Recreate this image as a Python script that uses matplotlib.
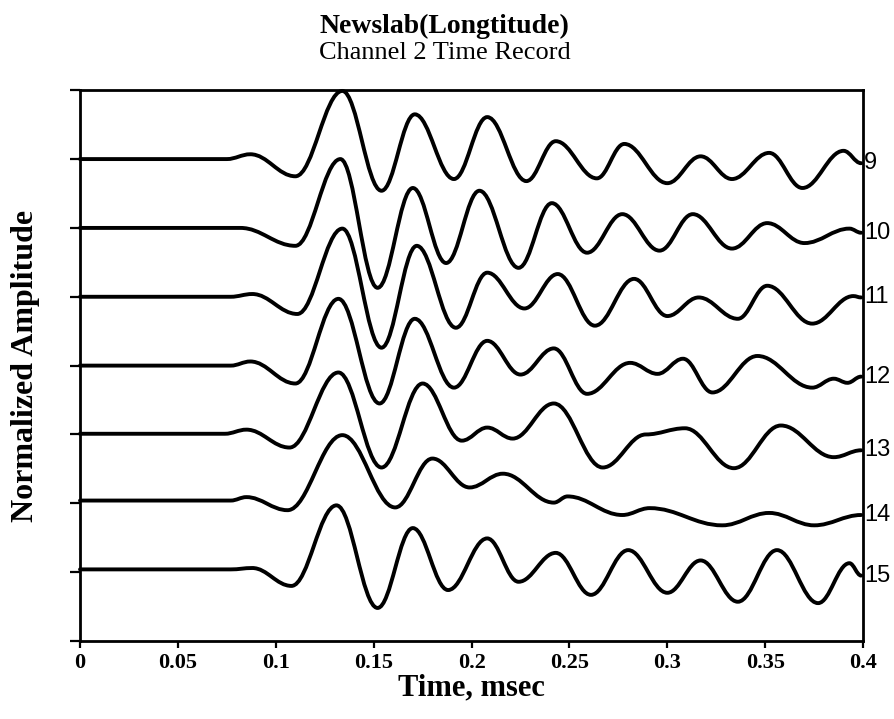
import matplotlib
matplotlib.use("Agg")
import matplotlib.pyplot as plt
from matplotlib.path import Path
from matplotlib.patches import PathPatch

# traces: time (msec) of each turning point and the
# normalized amplitude there (1.0 = one trace spacing)
trace_names = ["9", "10", "11", "12", "13", "14", "15"]
trace_offsets = [7, 6, 5, 4, 3, 2, 1]

t9 = [0, 0.075, 0.087, 0.110, 0.134, 0.154, 0.171, 0.191, 0.208, 0.228, 0.243,
      0.264, 0.278, 0.300, 0.317, 0.333, 0.352, 0.369, 0.390, 0.399]
a9 = [0, 0, 0.07, -0.25, 0.99, -0.46, 0.65, -0.29, 0.61, -0.32, 0.26,
      -0.28, 0.22, -0.35, 0.04, -0.29, 0.09, -0.42, 0.12, -0.06]

t10 = [0, 0.082, 0.110, 0.133, 0.152, 0.170, 0.187, 0.204, 0.224, 0.241,
       0.259, 0.277, 0.296, 0.313, 0.333, 0.351, 0.370, 0.393, 0.399]
a10 = [0, 0, -0.26, 1.00, -0.87, 0.58, -0.51, 0.54, -0.58, 0.36,
       -0.36, 0.20, -0.33, 0.20, -0.30, 0.07, -0.22, -0.01, -0.07]

t11 = [0, 0.077, 0.088, 0.111, 0.134, 0.154, 0.172, 0.192, 0.208, 0.227, 0.244,
       0.263, 0.283, 0.300, 0.316, 0.336, 0.351, 0.374, 0.395, 0.399]
a11 = [0, 0, 0.04, -0.25, 0.99, -0.74, 0.74, -0.45, 0.35, -0.17, 0.33,
       -0.42, 0.26, -0.28, -0.01, -0.32, 0.16, -0.39, 0.01, -0.01]

t12 = [0, 0.077, 0.087, 0.110, 0.132, 0.153, 0.171, 0.191, 0.208, 0.225, 0.242,
       0.259, 0.281, 0.295, 0.308, 0.323, 0.346, 0.374, 0.385, 0.392, 0.399]
a12 = [0, 0, 0.06, -0.26, 0.97, -0.55, 0.68, -0.32, 0.36, -0.13, 0.25,
       -0.41, 0.04, -0.12, 0.10, -0.39, 0.14, -0.32, -0.19, -0.25, -0.16]

t13 = [0, 0.074, 0.085, 0.107, 0.132, 0.154, 0.175, 0.195, 0.208, 0.221, 0.242,
       0.267, 0.289, 0.309, 0.334, 0.358, 0.385, 0.399]
a13 = [0.01, 0.01, 0.07, -0.19, 0.90, -0.48, 0.74, -0.09, 0.10, -0.06, 0.45,
       -0.48, 0.0, 0.09, -0.49, 0.13, -0.33, -0.23]

t14 = [0, 0.077, 0.085, 0.106, 0.134, 0.161, 0.180, 0.199, 0.216, 0.242, 0.249,
       0.277, 0.291, 0.328, 0.352, 0.375, 0.399]
a14 = [0.04, 0.04, 0.09, -0.10, 0.99, -0.06, 0.65, 0.23, 0.43, 0.01, 0.10,
       -0.17, -0.07, -0.32, -0.14, -0.32, -0.17]

t15 = [0, 0.077, 0.088, 0.108, 0.131, 0.152, 0.170, 0.188, 0.208, 0.224, 0.243,
       0.261, 0.280, 0.300, 0.317, 0.336, 0.356, 0.377, 0.393, 0.399]
a15 = [0.04, 0.04, 0.06, -0.20, 0.97, -0.52, 0.64, -0.26, 0.49, -0.14, 0.28,
       -0.33, 0.32, -0.30, 0.17, -0.43, 0.32, -0.45, 0.13, -0.05]

times = [t9, t10, t11, t12, t13, t14, t15]
amps = [a9, a10, a11, a12, a13, a14, a15]

x_ticks = [0, 0.05, 0.1, 0.15, 0.2, 0.25, 0.3, 0.35, 0.4]
x_tick_labels = ["0", "0.05", "0.1", "0.15", "0.2", "0.25", "0.3", "0.35", "0.4"]

serif = ["Liberation Serif", "DejaVu Serif"]


def smooth_trace(t, a, base):
    # cubic bezier through the turning points, flat tangent at each one
    verts = [(t[0], base + a[0])]
    codes = [Path.MOVETO]
    for i in range(1, len(t)):
        h = (t[i] - t[i - 1]) * 0.38
        verts += [(t[i - 1] + h, base + a[i - 1]),
                  (t[i] - h, base + a[i]),
                  (t[i], base + a[i])]
        codes += [Path.CURVE4] * 3
    return Path(verts, codes)


fig = plt.figure(figsize=(8.95, 7.19), dpi=100)
ax = fig.add_axes([0.0894, 0.1085, 0.875, 0.766])

for name, base, t, a in zip(trace_names, trace_offsets, times, amps):
    ax.add_patch(PathPatch(smooth_trace(t, a, base), fill=False, lw=2.8,
                           ec="black", capstyle="round", joinstyle="round",
                           clip_on=False))
    ax.annotate(name, (t[-1], base + a[-1]), xytext=(2, 0),
                textcoords="offset points", ha="left", va="center",
                fontsize=17, family="Liberation Sans", annotation_clip=False)

ax.set_xlim(0, 0.4)
ax.set_ylim(0, 8)
ax.set_xticks(x_ticks)
ax.set_xticklabels(x_tick_labels, family=serif, fontweight="bold", fontsize=16)
ax.set_yticks(range(0, 9))
ax.set_yticklabels([])
ax.tick_params(axis="x", direction="out", length=5, width=1.6, pad=4)
ax.tick_params(axis="y", direction="out", length=7, width=1.6)
for sp in ax.spines.values():
    sp.set_linewidth(2.0)

ax.set_xlabel("Time, msec", family=serif, fontweight="bold", fontsize=22, labelpad=0)
ax.set_ylabel("Normalized Amplitude", family=serif, fontweight="bold", fontsize=23, labelpad=18)

fig.text(0.497, 0.954, "Newslab(Longtitude)", ha="center", va="baseline",
         family=serif, fontweight="bold", fontsize=20)
fig.text(0.497, 0.918, "Channel 2 Time Record", ha="center", va="baseline",
         family=serif, fontsize=19)

fig.savefig("out.png", dpi=100)
